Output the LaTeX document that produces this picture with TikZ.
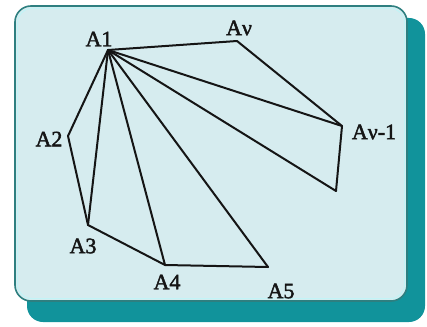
\documentclass[tikz,border=0pt]{standalone}
\usepackage{fontspec}
\setmainfont{Liberation Serif}
\newfontfamily\lblfont{Liberation Serif}[FakeBold=2]
\definecolor{shadowc}{HTML}{11939B}
\definecolor{framef}{HTML}{D6ECEF}
\definecolor{frameb}{HTML}{2E7F80}
\definecolor{highl}{HTML}{C2F4F7}
\definecolor{ink}{HTML}{151515}
\begin{document}
\begin{tikzpicture}[x=1pt,y=-1pt,
  lbl/.style={inner sep=0pt, font=\lblfont\fontsize{22}{22}\selectfont, text=ink},
  edge/.style={line width=2pt, line join=round, line cap=round, draw=ink}]
\useasboundingbox (0,0) rectangle (427,326);
\fill[shadowc, rounded corners=16pt] (27,18) rectangle (425,322);
\draw[frameb, line width=1.6pt, fill=framef, rounded corners=16pt] (15,6) rectangle (407,301);
\draw[highl, line width=1pt, rounded corners=14pt] (17.5,8.5) rectangle (404.5,298.5);
% vertices
\coordinate (v1) at (108,50);
\coordinate (vn) at (237,41);
\coordinate (vn1) at (342,126);
\coordinate (v6) at (336,191);
\coordinate (v5) at (268,267);
\coordinate (v4) at (165,265);
\coordinate (v3) at (88,225);
\coordinate (v2) at (68,136);
% edges
\draw[edge] (vn1) -- (vn) -- (v1) -- (v2) -- (v3) -- (v4) -- (v5);
\draw[edge] (vn1) -- (v6);
\foreach \t in {v3,v4,v5,v6,vn1} \draw[edge] (v1) -- (\t);
% labels
\node[lbl] (l1) at (99,39) {A1};
\node[lbl] (ln) at (239,28) {Aν};
\node[lbl] (ln1) at (374,132) {Aν-1};
\node[lbl] (l2) at (49,139) {A2};
\node[lbl] (l3) at (83,246) {A3};
\node[lbl] (l4) at (167,282) {A4};
\node[lbl] (l5) at (281,291) {A5};
\end{tikzpicture}
\end{document}
